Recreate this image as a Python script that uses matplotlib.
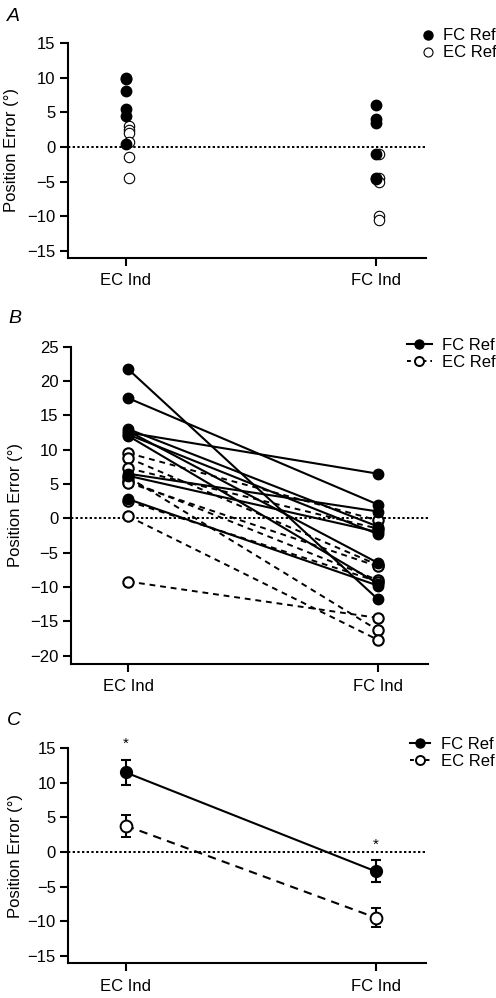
import matplotlib
matplotlib.use('Agg')
import matplotlib.pyplot as plt
from matplotlib.lines import Line2D

plt.rcParams['font.family'] = ['Liberation Sans', 'DejaVu Sans']
plt.rcParams['font.size'] = 12

# ---- data ----
x_labels = ['EC Ind', 'FC Ind']

# panel A: individual position errors
a_fc_ec = [10.0, 9.8, 8.0, 5.5, 4.5, 0.5]
a_ec_ec = [3.0, 2.5, 2.0, 0.7, -1.5, -4.5]
a_fc_fc = [6.0, 4.0, 3.5, -1.0, -4.5, -4.6]
a_ec_fc = [-1.0, -4.4, -5.0, -10.0, -10.5]

# panel B: paired subjects
b_fc_ec = [21.7, 17.5, 12.5, 13.0, 12.7, 12.0, 12.2, 6.5, 6.2, 2.8]
b_fc_fc = [-11.8, 2.0, 6.5, -1.2, -6.5, -9.5, -2.3, 1.0, -2.0, -9.8]
b_ec_ec = [9.5, 8.8, 7.3, 6.0, 5.5, 5.2, 2.5, 0.3, -9.2]
b_ec_fc = [-0.3, -6.8, -1.5, -16.3, -9.0, -7.0, -9.2, -17.7, -14.5]

# panel C: group means +- SEM
c_fc_mean = [11.5, -2.8]
c_fc_sem = [1.8, 1.6]
c_ec_mean = [3.8, -9.5]
c_ec_sem = [1.6, 1.4]
c_star_y = [15.7, 1.0]

fig = plt.figure(figsize=(4.96, 9.98), dpi=100)

axA = fig.add_axes([0.137, 0.7415, 0.722, 0.2155])
axB = fig.add_axes([0.143, 0.3347, 0.720, 0.3179])
axC = fig.add_axes([0.138, 0.0348, 0.720, 0.2154])

def style(ax, ylim, yticks, label_x):
    ax.set_xlim(-0.23, 1.2)
    ax.set_ylim(*ylim)
    ax.set_yticks(yticks)
    ax.set_xticks([0, 1])
    ax.set_xticklabels(x_labels)
    for s in ['top', 'right']:
        ax.spines[s].set_visible(False)
    for s in ['left', 'bottom']:
        ax.spines[s].set_linewidth(1.5)
    ax.tick_params(axis='y', length=6, width=1.5, pad=3, labelsize=12)
    ax.tick_params(axis='x', length=6, width=1.5, pad=5, labelsize=12)
    ax.axhline(0, color='black', lw=1.4, ls=(0, (1.2, 1.2)), zorder=1)
    ax.set_ylabel('Position Error (°)', fontsize=12)
    ax.yaxis.set_label_coords(label_x, 0.5)

legend_kw = dict(loc='upper left', bbox_transform=fig.transFigure, frameon=False,
                 borderaxespad=0, borderpad=0, labelspacing=0.12, fontsize=12)

# ---- A ----
style(axA, (-16, 15), [-15, -10, -5, 0, 5, 10, 15], -0.137)
off = 0.012
axA.plot([0 + off] * len(a_ec_ec), a_ec_ec, 'o', ms=7.5, mfc='white', mec='black', mew=0.8, ls='none', zorder=3)
axA.plot([1 + off] * len(a_ec_fc), a_ec_fc, 'o', ms=7.5, mfc='white', mec='black', mew=0.8, ls='none', zorder=3)
axA.plot([0] * len(a_fc_ec), a_fc_ec, 'o', ms=7.5, color='black', ls='none', zorder=4)
axA.plot([1] * len(a_fc_fc), a_fc_fc, 'o', ms=7.5, color='black', ls='none', zorder=4)
hA = [Line2D([], [], marker='o', ls='none', color='black', ms=6.5),
      Line2D([], [], marker='o', ls='none', mfc='white', mec='black', mew=0.8, ms=6.5)]
axA.legend(hA, ['FC Ref', 'EC Ref'], bbox_to_anchor=(0.846, 0.9715),
           handlelength=1.0, handletextpad=0.4, **legend_kw)
fig.text(0.015, 0.979, 'A', fontsize=14, style='italic', va='baseline')

# ---- B ----
style(axB, (-21.2, 25), [-20, -15, -10, -5, 0, 5, 10, 15, 20, 25], -0.135)
for e, f in zip(b_ec_ec, b_ec_fc):
    axB.plot([0, 1], [e, f], color='black', lw=1.4, ls=(0, (3, 2.5)),
             marker='o', ms=7.5, mfc='white', mec='black', mew=1.5, zorder=3)
for e, f in zip(b_fc_ec, b_fc_fc):
    axB.plot([0, 1], [e, f], color='black', lw=1.5, ls='-',
             marker='o', ms=7.5, zorder=4)
hB = [Line2D([], [], marker='o', ls='-', color='black', lw=1.5, ms=6.5),
      Line2D([], [], marker='o', ls=(0, (2, 2)), color='black', lw=1.4, mfc='white', mec='black', mew=1.4, ms=6.5)]
axB.legend(hB, ['FC Ref', 'EC Ref'], bbox_to_anchor=(0.82, 0.6615),
           handlelength=1.5, handletextpad=0.6, **legend_kw)
fig.text(0.016, 0.6764, 'B', fontsize=14, style='italic', va='baseline')

# ---- C ----
style(axC, (-16.1, 15), [-15, -10, -5, 0, 5, 10, 15], -0.126)
axC.errorbar([0, 1], c_ec_mean, yerr=c_ec_sem, color='black', lw=1.5, ls=(0, (4, 3)),
             marker='o', ms=8.5, mfc='white', mec='black', mew=1.4, capsize=3.5,
             elinewidth=1.5, capthick=1.5, zorder=3)
axC.errorbar([0, 1], c_fc_mean, yerr=c_fc_sem, color='black', lw=1.5, ls='-',
             marker='o', ms=8.5, capsize=3.5, elinewidth=1.5, capthick=1.5, zorder=4)
for xi, yi in zip([0, 1], c_star_y):
    axC.text(xi, yi, '*', ha='center', va='center', fontsize=11, clip_on=False)
hC = [Line2D([], [], marker='o', ls='-', color='black', lw=1.5, ms=6.5),
      Line2D([], [], marker='o', ls=(0, (2, 2)), color='black', lw=1.4, mfc='white', mec='black', mew=1.4, ms=6.5)]
axC.legend(hC, ['FC Ref', 'EC Ref'], bbox_to_anchor=(0.826, 0.2615),
           handlelength=1.2, handletextpad=0.7, **legend_kw)
fig.text(0.014, 0.2735, 'C', fontsize=14, style='italic', va='baseline')

fig.savefig('out.png', dpi=100)
